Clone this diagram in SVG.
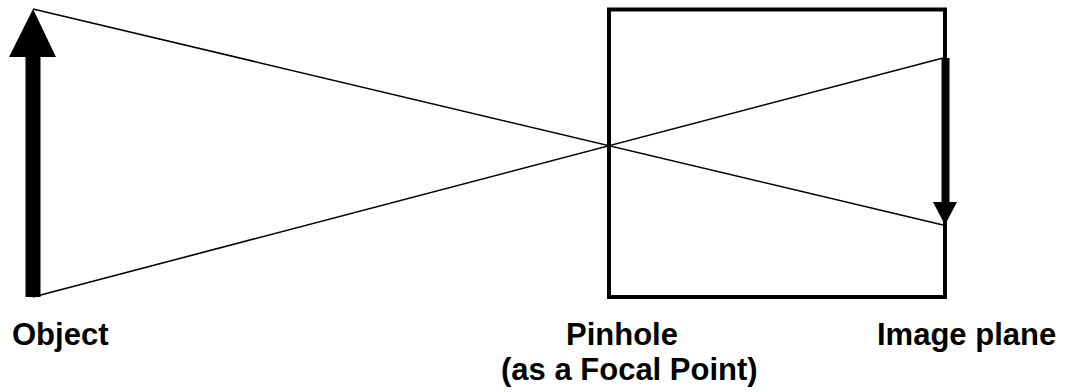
<svg xmlns="http://www.w3.org/2000/svg" width="1067" height="392" viewBox="0 0 1067 392">
<style>
.lbl{font-family:"Liberation Sans",Arial,sans-serif;font-weight:bold;font-size:31px;fill:#000}
.ray{stroke:#000;stroke-width:1.6;fill:none}
</style>
<rect width="1067" height="392" fill="#fff"/>
<g id="camera-box">
<rect x="609" y="9.5" width="336" height="287.5" fill="none" stroke="#000" stroke-width="4"/>
</g>
<g id="connectors">
<line class="ray" x1="33" y1="9" x2="943" y2="225"/>
<line class="ray" x1="33" y1="297" x2="943" y2="58"/>
</g>
<g id="object">
<rect x="25.5" y="55" width="15" height="242" fill="#000"/>
<polygon points="33,9 9,57 56,57" fill="#000"/>
<text class="lbl" x="12" y="345">Object</text>
</g>
<g id="image">
<rect x="941.5" y="58" width="8" height="146" fill="#000"/>
<polygon points="933,202 957,202 945,225" fill="#000"/>
<text class="lbl" x="877" y="345">Image plane</text>
</g>
<g id="pinhole">
<text class="lbl" x="566" y="345">Pinhole</text>
<text class="lbl" x="501" y="380">(as a Focal Point)</text>
</g>
</svg>
